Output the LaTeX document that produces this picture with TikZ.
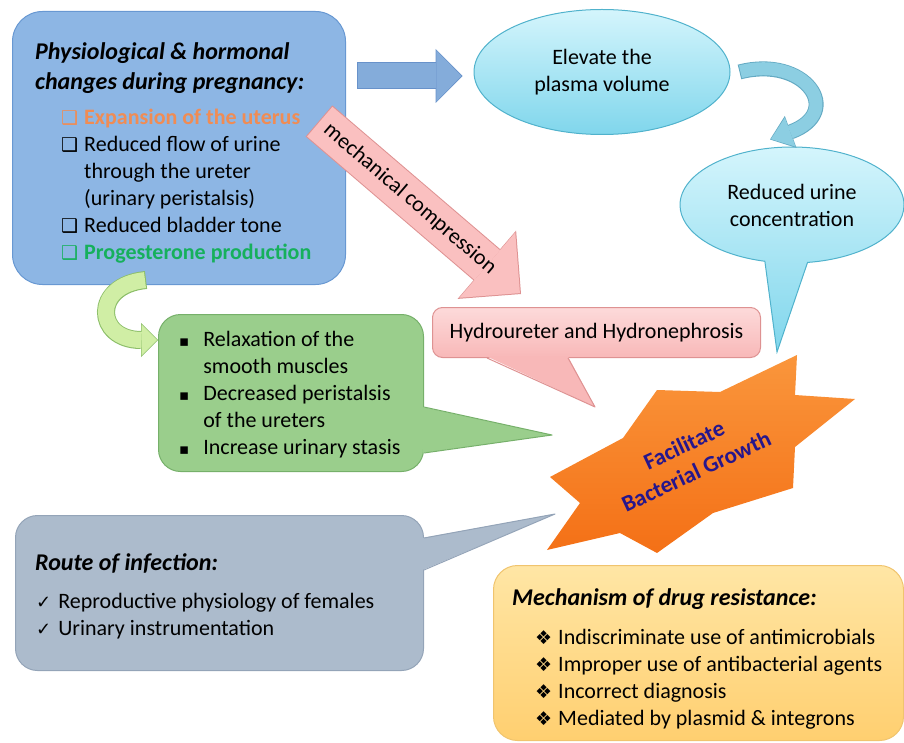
\documentclass[tikz,border=0pt]{standalone}
\usepackage{fontspec}
\setmainfont{Carlito}
\newfontfamily\symfont{DejaVu Sans}
\usetikzlibrary{arrows.meta,shapes.geometric,shapes.callouts}

\definecolor{physfill}{RGB}{141,182,228}
\definecolor{physline}{RGB}{104,152,210}
\definecolor{skytop}{RGB}{212,245,252}
\definecolor{skybot}{RGB}{128,214,236}
\definecolor{skyline}{RGB}{80,178,204}
\definecolor{pinktop}{RGB}{253,218,218}
\definecolor{pinkbot}{RGB}{248,184,184}
\definecolor{pinkline}{RGB}{222,146,146}
\definecolor{pinkarrow}{RGB}{250,192,192}
\definecolor{musclefill}{RGB}{154,206,140}
\definecolor{muscleline}{RGB}{118,176,106}
\definecolor{routefill}{RGB}{172,187,204}
\definecolor{routeline}{RGB}{148,164,184}
\definecolor{drugtop}{RGB}{255,230,165}
\definecolor{drugbot}{RGB}{255,207,112}
\definecolor{drugline}{RGB}{240,196,110}
\definecolor{startop}{RGB}{250,150,60}
\definecolor{starbot}{RGB}{244,112,22}
\definecolor{starink}{RGB}{38,22,140}
\definecolor{uterus}{RGB}{240,140,84}
\definecolor{proges}{RGB}{22,176,92}
\definecolor{arrblue}{RGB}{132,172,218}
\definecolor{arrblueline}{RGB}{104,146,202}
\definecolor{arrcyan}{RGB}{140,206,226}
\definecolor{arrcyanline}{RGB}{100,170,195}
\definecolor{arrleaf}{RGB}{208,238,165}
\definecolor{arrleafline}{RGB}{140,190,105}

\newcommand{\txtfont}{\fontsize{22}{27}\selectfont}
\newcommand{\ttlfont}{\fontsize{24}{30}\selectfont\bfseries\itshape}
\newcommand{\chkbox}{{\symfont\bfseries\fontsize{19}{27}\selectfont ❑}}
\newcommand{\sqbul}{{\symfont\fontsize{15}{27}\selectfont ▪}}
\newcommand{\tickmk}{{\symfont\fontsize{18}{27}\selectfont ✓}}
\newcommand{\diabul}{{\symfont\fontsize{19}{27}\selectfont ❖}}

\begin{document}
\begin{tikzpicture}[x=1pt,y=-1pt,
  every node/.style={font=\txtfont,inner sep=0pt},
  panel/.style={rounded corners=#1,line width=1pt,anchor=north west},
  bubble/.style={ellipse,top color=skytop,bottom color=skybot,draw=skyline,
    line width=1pt,align=center},
  items/.style={anchor=base west},
  tail/.style={line width=1pt,line join=round}]

  \useasboundingbox (0,0) rectangle (904,743);

  % panels
  \node[panel=30pt,fill=physfill,draw=physline,minimum width=333pt,
    minimum height=273pt] (phys) at (12,11) {};
  \node[panel=22pt,fill=musclefill,draw=muscleline,minimum width=265pt,
    minimum height=157pt] (muscle) at (158,314) {};
  \node[panel=22pt,fill=routefill,draw=routeline,minimum width=408pt,
    minimum height=155pt] (route) at (15,515) {};
  \node[panel=24pt,top color=drugtop,bottom color=drugbot,draw=drugline,
    minimum width=410pt,minimum height=175pt] (drug) at (493,565) {};
  \node[panel=10pt,top color=pinktop,bottom color=pinkbot,draw=pinkline,
    minimum width=328pt,minimum height=50pt] (hydro) at (432,307)
    {Hydroureter and Hydronephrosis};
  \node[bubble,minimum width=256pt,minimum height=125pt] (plasma) at (602,72)
    {Elevate the\\plasma volume};
  \node[bubble,ellipse callout,callout absolute pointer={(777,352)},
    callout pointer arc=22,minimum width=224pt,minimum height=116pt]
    (urine) at (792,205) {Reduced urine\\concentration};

  % tails of the callouts
  \coordinate (htip) at (595,407);
  \coordinate (mtip) at (552,435);
  \coordinate (rtip) at (555,514);
  \fill[pinkbot] ([xshift=55pt,yshift=1.5pt]hydro.south west) -- (htip)
    -- ([xshift=136pt,yshift=1.5pt]hydro.south west) -- cycle;
  \draw[tail,pinkline] ([xshift=55pt]hydro.south west) -- (htip)
    -- ([xshift=136pt]hydro.south west);
  \fill[musclefill] ([xshift=-1.5pt,yshift=-93pt]muscle.north east) -- (mtip)
    -- ([xshift=-1.5pt,yshift=-139pt]muscle.north east) -- cycle;
  \draw[tail,muscleline] ([yshift=-93pt]muscle.north east) -- (mtip)
    -- ([yshift=-139pt]muscle.north east);
  \fill[routefill] ([xshift=-1.5pt,yshift=-23pt]route.north east) -- (rtip)
    -- ([xshift=-1.5pt,yshift=-55pt]route.north east) -- cycle;
  \draw[tail,routeline] ([yshift=-23pt]route.north east) -- (rtip)
    -- ([yshift=-55pt]route.north east);

  % star
  \path[top color=startop,bottom color=starbot]
    (797,355) -- (795,395) -- (855,399) -- (795,447) -- (793,488)
    -- (713,513) -- (657,553) -- (620,533) -- (547,550) -- (580,503)
    -- (550,477) -- (623,438) -- (657,390) -- (720,392) -- cycle;
  \node[rotate=25,align=center,text=starink,
    font=\fontsize{23}{29}\selectfont\bfseries] (grow) at (690,458)
    {Facilitate\\Bacterial Growth};

  % block arrows
  \draw[line width=27pt,draw=arrblueline,
    -{Triangle[length=27pt,width=54pt,line width=0pt]}]
    ([xshift=11pt,yshift=-65pt]phys.north east)
    -- ([xshift=-11pt,yshift=-4pt]plasma.west);
  \draw[line width=25pt,draw=arrblue,shorten >=1.2pt,shorten <=1pt,
    -{Triangle[length=25pt,width=51pt,line width=0pt]}]
    ([xshift=11pt,yshift=-65pt]phys.north east)
    -- ([xshift=-11pt,yshift=-4pt]plasma.west);

  \draw[line width=41pt,draw=pinkline,
    -{Triangle[length=45pt,width=90pt,line width=0pt]}]
    ([xshift=-27pt,yshift=-110pt]phys.north east)
    -- ([xshift=89pt,yshift=13pt]hydro.north west);
  \draw[line width=39pt,draw=pinkarrow,shorten >=1.4pt,shorten <=1pt,
    -{Triangle[length=43pt,width=86pt,line width=0pt]}]
    ([xshift=-27pt,yshift=-110pt]phys.north east)
    -- ([xshift=89pt,yshift=13pt]hydro.north west)
    node[pos=0.45,sloped,text=black] {mechanical compression};

  \draw[line width=15pt,draw=arrcyanline,
    -{Triangle[length=22pt,width=34pt,line width=0pt]}]
    ([xshift=9pt]plasma.east) .. controls (805,55) and (845,112)
    .. ([xshift=-22pt,yshift=7pt]urine.north);
  \draw[line width=13pt,draw=arrcyan,shorten >=1pt,shorten <=1pt,
    -{Triangle[length=20.5pt,width=31pt,line width=0pt]}]
    ([xshift=9pt]plasma.east) .. controls (805,55) and (845,112)
    .. ([xshift=-22pt,yshift=7pt]urine.north);

  \draw[line width=18pt,draw=arrleafline,
    -{Triangle[length=17pt,width=34pt,line width=0pt]}]
    ([xshift=134pt,yshift=5pt]phys.south west) .. controls (92,285) and (95,340)
    .. ([yshift=-26pt]muscle.north west);
  \draw[line width=16pt,draw=arrleaf,shorten >=1pt,shorten <=1pt,
    -{Triangle[length=15.5pt,width=31pt,line width=0pt]}]
    ([xshift=134pt,yshift=5pt]phys.south west) .. controls (92,285) and (95,340)
    .. ([yshift=-26pt]muscle.north west);

  % texts
  \node[items] (physT) at (35,60) {\ttlfont\begin{tabular}[t]{@{}l@{}}
    Physiological \& hormonal\\changes during pregnancy:\end{tabular}};
  \node[items] (physL) at (61,125) {\begin{tabular}[t]{@{}l@{\hspace{6pt}}l@{}}
    {\color{uterus}\chkbox} & \textcolor{uterus}{\bfseries Expansion of the uterus}\\
    \chkbox & Reduced flow of urine\\
     & through the ureter\\
     & (urinary peristalsis)\\
    \chkbox & Reduced bladder tone\\
    {\color{proges}\chkbox} & \textcolor{proges}{\bfseries Progesterone production}
    \end{tabular}};

  \node[items] (muscleL) at (179,346) {\begin{tabular}[t]{@{}l@{\hspace{14pt}}l@{}}
    \sqbul & Relaxation of the\\
     & smooth muscles\\
    \sqbul & Decreased peristalsis\\
     & of the ureters\\
    \sqbul & Increase urinary stasis
    \end{tabular}};

  \node[items] (routeT) at (35,570) {\ttlfont Route of infection:};
  \node[items] (routeL) at (36,608) {\begin{tabular}[t]{@{}l@{\hspace{7pt}}l@{}}
    \tickmk & Reproductive physiology of females\\
    \tickmk & Urinary instrumentation
    \end{tabular}};

  \node[items] (drugT) at (512,605) {\ttlfont Mechanism of drug resistance:};
  \node[items] (drugL) at (535,644) {\begin{tabular}[t]{@{}l@{\hspace{6pt}}l@{}}
    \diabul & Indiscriminate use of antimicrobials\\
    \diabul & Improper use of antibacterial agents\\
    \diabul & Incorrect diagnosis\\
    \diabul & Mediated by plasmid \& integrons
    \end{tabular}};
\end{tikzpicture}
\end{document}
